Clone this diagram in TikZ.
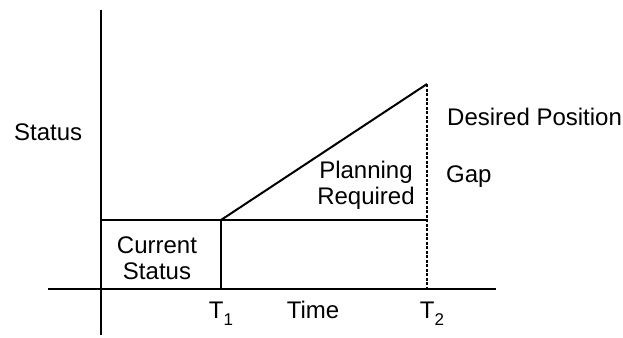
\documentclass[tikz,border=0pt]{standalone}
\usepackage{fontspec}
\setmainfont{Liberation Sans}
\usepackage{tikz}
\usetikzlibrary{positioning}

\newcommand{\Tsub}[1]{T\raisebox{-7pt}{\fontsize{17}{17}\selectfont #1}}

\begin{document}
\begin{tikzpicture}[
    x=1pt, y=-1pt,
    font=\fontsize{24}{26}\selectfont,
    axis/.style={draw, line width=2pt},
    dashline/.style={draw, line width=1.6pt, dash pattern=on 3pt off 1.5pt},
    lbl/.style={inner sep=0pt, anchor=base, align=center}
]
    \useasboundingbox (0,0) rectangle (623,337);

    % axes
    \coordinate (ytop) at (101,10);
    \coordinate (ybot) at (101,335);
    \coordinate (xleft) at (48,289);
    \coordinate (xright) at (496,289);
    \draw[axis] (ytop) -- (ybot);
    \draw[axis] (xleft) -- (xright);

    % status levels
    \coordinate (cur) at (101,220);
    \coordinate (t1) at (221,220);
    \coordinate (t1base) at (221,289);
    \coordinate (t2) at (427,220);
    \coordinate (goal) at (427,84);
    \coordinate (t2base) at (427,289);
    \draw[axis] (cur) -- (t2);
    \draw[axis] (t1) -- (t1base);
    \draw[axis] (t1) -- (goal);
    \draw[dashline] (goal) -- (t2base);

    % labels
    \node[lbl, anchor=base west] (status) at (14,140) {Status};
    \node[lbl, anchor=base west] (desired) at (447,125) {Desired Position};
    \node[lbl, anchor=base west] (gap) at (446,182) {Gap};
    \node[lbl] (planning) at (366,204) {Planning\\Required};
    \node[lbl] (current) at (157,279) {Current\\Status};
    \node[lbl] (tone) at (221,318) {\Tsub{1}};
    \node[lbl] (time) at (313,318) {Time};
    \node[lbl] (ttwo) at (432,318) {\Tsub{2}};
\end{tikzpicture}
\end{document}
